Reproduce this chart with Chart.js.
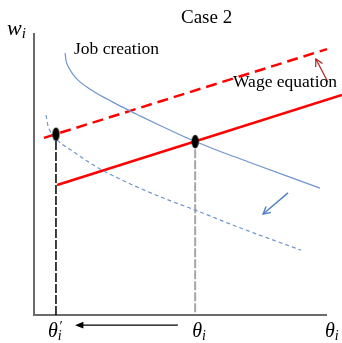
<!DOCTYPE html>
<html>
<head>
<meta charset="utf-8">
<script src="https://cdn.jsdelivr.net/npm/chart.js@4.4.1/dist/chart.umd.min.js"></script>
<style>
html, body { margin: 0; padding: 0; background: #fff; }
canvas { display: block; }
</style>
</head>
<body>
<canvas id="grafico" width="342" height="343"></canvas>
<script>
// unidades arbitrarias: theta no eixo x, w no eixo y (0..10)
const jobTheta = [1.06, 1.09, 1.16, 1.30, 1.50, 1.78, 2.12, 2.53, 3.00, 3.62, 4.30, 5.15, 6.18, 7.37, 8.57, 9.76];
const jobW     = [9.29, 9.04, 8.83, 8.58, 8.33, 8.10, 7.87, 7.64, 7.38, 7.06, 6.72, 6.31, 5.87, 5.41, 4.95, 4.50];

// curva de criacao de emprego deslocada (tracejada)
const jobNewTheta = [0.41, 0.48, 0.61, 0.75, 0.96, 1.33, 1.81, 2.25, 3.45, 4.68, 5.53, 6.96, 9.11];
const jobNewW     = [7.09, 6.70, 6.42, 6.24, 6.06, 5.80, 5.46, 5.18, 4.57, 4.04, 3.71, 3.12, 2.30];

// equacao salarial (reta) antes e depois
const wageTheta    = [0.79, 10.51];
const wageW        = [4.61, 7.80];
const wageNewTheta = [0.34, 10.0];
const wageNewW     = [6.28, 9.43];

// equilibrios: theta_i e theta'_i
const eqTheta = [5.5, 0.75];
const eqW     = [6.15, 6.41];

// setas [thetaCauda, wCauda, thetaPonta, wPonta]
const redArrow   = [10.03, 8.26, 9.62, 9.08];
const blueArrow  = [8.67, 4.33, 7.82, 3.58];
const blackArrow = [4.91, -0.36, 1.40, -0.36];

const pts = (xs, ys) => xs.map((x, i) => ({ x: x, y: ys[i] }));

const SERIF = '"Liberation Serif", "Times New Roman", serif';
const AZUL = "#6f94cf";
const VERMELHO = "#ff0000";

// ponto eliptico preto
const elipse = document.createElement("canvas");
elipse.width = 9; elipse.height = 15;
(function () {
    const c = elipse.getContext("2d");
    c.fillStyle = "#000";
    c.beginPath();
    c.ellipse(4.5, 7.5, 3.6, 6.8, 0, 0, Math.PI * 2);
    c.fill();
})();

const desenhos = {
    id: "desenhos",
    afterDatasetsDraw(chart) {
        const ctx = chart.ctx;
        const sx = chart.scales.x, sy = chart.scales.y;
        const px = v => sx.getPixelForValue(v);
        const py = v => sy.getPixelForValue(v);

        function seta(a, cor, larg, cheia) {
            const x1 = px(a[0]), y1 = py(a[1]), x2 = px(a[2]), y2 = py(a[3]);
            const ang = Math.atan2(y2 - y1, x2 - x1);
            const L = cheia ? 9 : 8, abre = cheia ? 0.38 : 0.5;
            ctx.save();
            ctx.strokeStyle = cor; ctx.fillStyle = cor; ctx.lineWidth = larg;
            ctx.beginPath();
            ctx.moveTo(x1, y1);
            ctx.lineTo(cheia ? x2 - Math.cos(ang) * L * 0.8 : x2, cheia ? y2 - Math.sin(ang) * L * 0.8 : y2);
            ctx.stroke();
            ctx.beginPath();
            ctx.moveTo(x2 - L * Math.cos(ang - abre), y2 - L * Math.sin(ang - abre));
            ctx.lineTo(x2, y2);
            ctx.lineTo(x2 - L * Math.cos(ang + abre), y2 - L * Math.sin(ang + abre));
            if (cheia) { ctx.closePath(); ctx.fill(); } else ctx.stroke();
            ctx.restore();
        }
        seta(redArrow, "#b22222", 1.2, false);
        seta(blueArrow, "#4f7fc4", 1.4, false);
        seta(blackArrow, "#000", 1.3, true);

        ctx.save();
        ctx.fillStyle = "#000";
        ctx.textBaseline = "alphabetic";
        ctx.textAlign = "left";
        ctx.font = "19px " + SERIF;
        ctx.fillText("Case 2", 181, 23);
        ctx.font = "17.5px " + SERIF;
        ctx.fillText("Job creation", 74, 54);
        ctx.fillText("Wage equation", 233, 87);

        // rotulos matematicos
        function rotulo(base, x, y, tam, linha) {
            ctx.font = "italic " + tam + "px " + SERIF;
            ctx.fillText(base, x, y);
            const w = ctx.measureText(base).width;
            ctx.font = "italic " + Math.round(tam * 0.68) + "px " + SERIF;
            ctx.fillText("i", x + w, y + 3);
            if (linha) ctx.fillText("\u2032", x + w + 1, y - 6);
        }
        rotulo("w", 7, 35, 22, false);
        rotulo("\u03b8", px(eqTheta[1]) - 8, 337, 20, true);
        rotulo("\u03b8", px(eqTheta[0]) - 3, 337, 20, false);
        rotulo("\u03b8", px(10) - 2, 337, 20, false);
        ctx.restore();
    }
};

new Chart(document.getElementById("grafico"), {
    type: "scatter",
    data: {
        datasets: [
            {
                data: pts(eqTheta, eqW),
                pointStyle: elipse, pointRadius: 7, showLine: false, order: 0
            },
            {
                data: pts(jobTheta, jobW), showLine: true,
                borderColor: AZUL, borderWidth: 1.2, pointRadius: 0,
                cubicInterpolationMode: "monotone", order: 1
            },
            {
                data: pts(jobNewTheta, jobNewW), showLine: true,
                borderColor: AZUL, borderWidth: 1.2, borderDash: [4, 3], pointRadius: 0,
                cubicInterpolationMode: "monotone", order: 1
            },
            {
                data: pts(wageTheta, wageW), showLine: true,
                borderColor: VERMELHO, borderWidth: 2.5, pointRadius: 0, order: 1
            },
            {
                data: pts(wageNewTheta, wageNewW), showLine: true,
                borderColor: VERMELHO, borderWidth: 2.5, borderDash: [11, 6], pointRadius: 0, order: 1
            },
            {
                // linha vertical ate theta'
                data: [{ x: eqTheta[1], y: 0 }, { x: eqTheta[1], y: eqW[1] }], showLine: true,
                borderColor: "#000", borderWidth: 1.5, borderDash: [9, 2], pointRadius: 0, order: 2
            },
            {
                // linha vertical ate theta
                data: [{ x: eqTheta[0], y: 0.1 }, { x: eqTheta[0], y: eqW[0] }], showLine: true,
                borderColor: "#a6a6a6", borderWidth: 2, borderDash: [9, 2], pointRadius: 0, order: 2
            },
            {
                // eixos
                data: [{ x: 0, y: 10 }, { x: 0, y: 0 }, { x: 10, y: 0 }], showLine: true,
                borderColor: "#6b6b6b", borderWidth: 2, pointRadius: 0, order: 3
            }
        ]
    },
    options: {
        responsive: false,
        animation: false,
        layout: { padding: { left: 34, right: 15, top: 33, bottom: 28 } },
        datasets: { scatter: { clip: false } },
        scales: {
            x: { type: "linear", min: 0, max: 10, display: false },
            y: { type: "linear", min: 0, max: 10, display: false }
        },
        plugins: {
            legend: { display: false },
            tooltip: { enabled: false }
        }
    },
    plugins: [desenhos]
});
</script>
</body>
</html>
